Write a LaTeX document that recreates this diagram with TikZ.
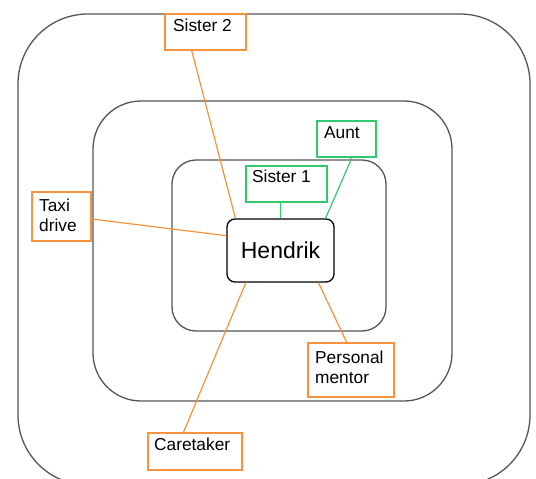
\documentclass[tikz,border=0pt]{standalone}
\usepackage{fontspec}
\setmainfont{Liberation Sans}
\usetikzlibrary{calc}
\definecolor{ringgray}{RGB}{85,85,85}
\definecolor{orangec}{RGB}{247,146,62}
\definecolor{greenc}{RGB}{50,200,110}
\tikzset{
  ring/.style={draw=ringgray, line width=1.3pt, inner sep=0pt},
  obox/.style={draw=orangec, line width=1.5pt, inner sep=0pt},
  gbox/.style={draw=greenc, line width=1.5pt, inner sep=0pt},
  oline/.style={draw=orangec, line width=1.2pt},
  gline/.style={draw=greenc, line width=1.2pt},
  lbl/.style={inner sep=0pt, anchor=base west, align=left, font=\fontsize{17.3}{20}\selectfont},
  hbox/.style={draw=black, line width=1.3pt, rounded corners=8pt, inner sep=0pt, font=\fontsize{23}{26}\selectfont}
}
\begin{document}
\begin{tikzpicture}[x=1pt, y=-1pt]
\useasboundingbox[fill=white] (0,0) rectangle (536,479);
\clip (0,0) rectangle (536,479);
% rings
\node[ring, rounded corners=70pt, minimum width=512pt, minimum height=471pt] (outer) at (274,249.5) {};
\node[ring, rounded corners=48pt, minimum width=359pt, minimum height=300pt] (middle) at (272.5,251) {};
\node[ring, rounded corners=24pt, minimum width=214pt, minimum height=171pt] (inner) at (279,245.5) {};
% Hendrik
\node[hbox, minimum width=107pt, minimum height=63pt] (hen) at (280.5,250.5) {Hendrik};
% boxes
\node[obox, minimum width=81pt, minimum height=36pt] (sis2) at (205.5,32) {};
\node[lbl] (sis2t) at (173,31) {Sister 2};
\node[obox, minimum width=59pt, minimum height=49pt] (taxi) at (61.5,216.5) {};
\node[lbl] (taxit) at (39,231) {Taxi\\drive};
\node[gbox, minimum width=81pt, minimum height=36pt] (sis1) at (286.5,184) {};
\node[lbl] (sis1t) at (252,182) {Sister 1};
\node[gbox, minimum width=59pt, minimum height=36pt] (aunt) at (346.5,139) {};
\node[lbl] (auntt) at (324,138) {Aunt};
\node[obox, minimum width=94pt, minimum height=37pt] (care) at (195,451.5) {};
\node[lbl] (caret) at (154,450) {Caretaker};
\node[obox, minimum width=86pt, minimum height=54pt] (mentor) at (351,370) {};
\node[lbl] (mentort) at (315,383) {Personal\\mentor};
% connectors
\draw[oline] ($(sis2.south west)!0.333!(sis2.south east)$) -- ($(hen.north west)!0.084!(hen.north east)$);
\draw[oline] ($(taxi.north east)!0.55!(taxi.south east)$) -- ($(hen.north west)!0.27!(hen.south west)$);
\draw[gline] (hen.north |- sis1.south) -- (hen.north);
\draw[gline] ($(aunt.south west)!0.59!(aunt.south east)$) -- ($(hen.north west)!0.916!(hen.north east)$);
\draw[oline] ($(care.north west)!0.38!(care.north east)$) -- ($(hen.south west)!0.18!(hen.south east)$);
\draw[oline] ($(mentor.north west)!0.45!(mentor.north east)$) -- ($(hen.south west)!0.85!(hen.south east)$);
\end{tikzpicture}
\end{document}
